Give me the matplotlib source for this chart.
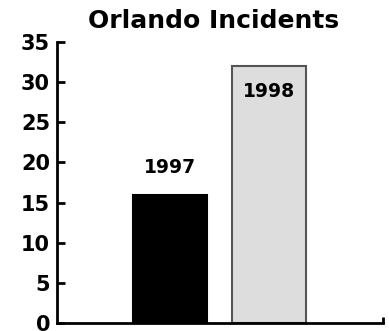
import matplotlib
matplotlib.use("Agg")
import matplotlib.pyplot as plt

years = ["1997", "1998"]
incidents = [16, 32]
colors = ["#000000", "#dddddd"]
edges = ["#000000", "#555555"]
yticks = [0, 5, 10, 15, 20, 25, 30, 35]

plt.rcParams['font.family'] = ['DejaVu Sans']
plt.rcParams['font.weight'] = 'bold'

fig = plt.figure(figsize=(3.89, 3.31), dpi=100)
ax = fig.add_axes([57/389, 1 - 323/331, (383 - 57)/389, (323 - 42)/331])

pos = range(len(years))
bars = ax.bar(pos, incidents, width=0.75, color=colors, edgecolor=edges, linewidth=1.5)

# labels: 1997 above its bar, 1998 inside near the top
ax.text(0, incidents[0] + 3.4, years[0], ha='center', va='center', fontsize=13.5, fontweight='bold')
ax.text(1, incidents[1] - 3.2, years[1], ha='center', va='center', fontsize=13.5, fontweight='bold')

ax.set_xlim(-1.15, 2.16)
ax.set_ylim(0, 35)
ax.set_yticks(yticks)
ax.set_yticklabels([str(t) for t in yticks], fontsize=15, fontweight='bold')
ax.set_xticks([2.16])
ax.set_xticklabels([""])
ax.tick_params(axis='y', direction='in', length=6, width=2, pad=5)
ax.tick_params(axis='x', direction='in', length=4, width=2)

for s in ['top', 'right']:
    ax.spines[s].set_visible(False)
for s in ['left', 'bottom']:
    ax.spines[s].set_linewidth(2)

ax.set_title("Orlando Incidents", fontsize=18, fontweight='bold', pad=10, x=(214 - 57)/326)

fig.savefig("out.png", dpi=100)
